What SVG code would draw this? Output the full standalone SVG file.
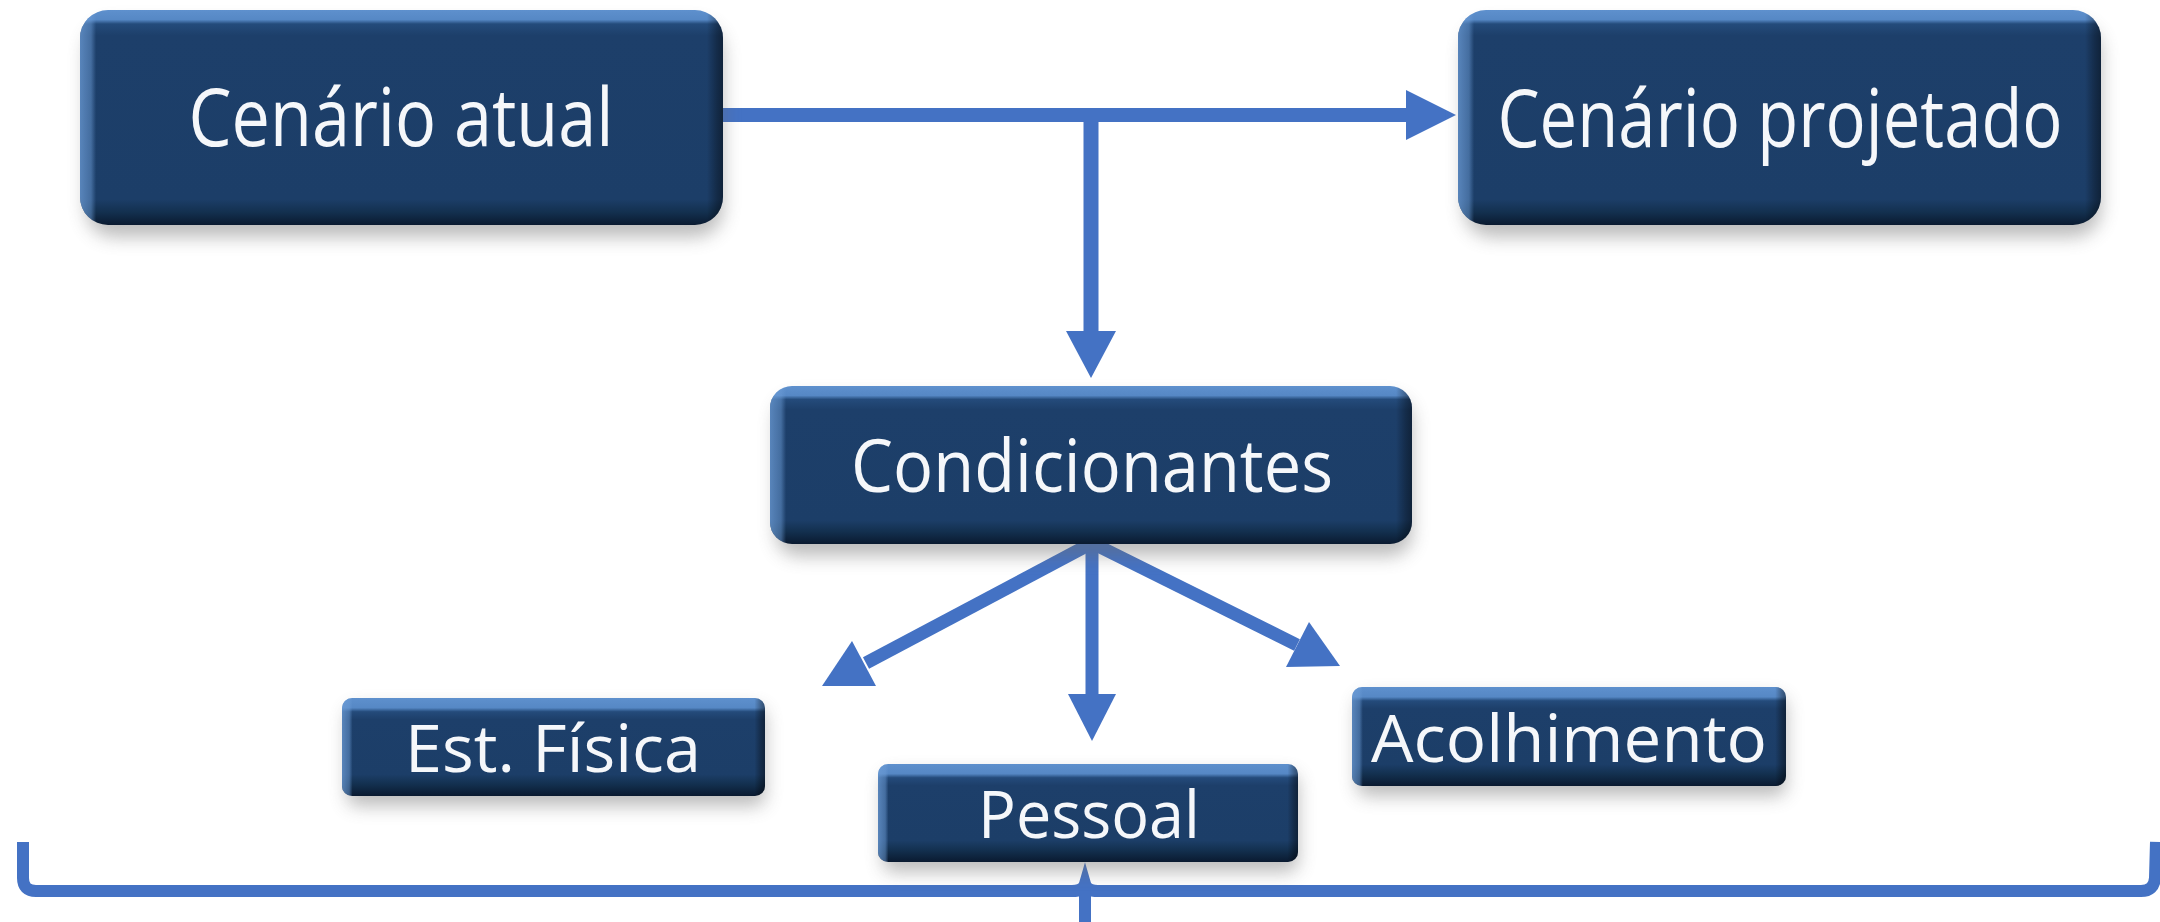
<svg xmlns="http://www.w3.org/2000/svg" width="2160" height="922" viewBox="0 0 2160 922">
<style>
.lbl{font-family:"Open Sans","Noto Sans","DejaVu Sans",sans-serif;fill:#f5f7fa;text-anchor:middle;}
.big{font-size:80px;}
.mid{font-size:73px;}
.sm{font-size:66px;}
.ln{stroke:#4472c4;fill:none;}
.hd{fill:#4472c4;}
.shd{fill:#6a6a6a;opacity:0.45;filter:url(#blur);}
</style>
<defs>
<filter id="blur" x="-10%" y="-30%" width="120%" height="160%"><feGaussianBlur stdDeviation="9"/></filter>
<linearGradient id="g1" x1="0" y1="0" x2="0" y2="1">
<stop offset="0" stop-color="#5e90cd"/><stop offset="0.045" stop-color="#5688c5"/><stop offset="0.065" stop-color="#244b7b"/><stop offset="0.12" stop-color="#1d3f6a"/><stop offset="0.88" stop-color="#1c3e68"/><stop offset="0.94" stop-color="#13304f"/><stop offset="1" stop-color="#0a1a30"/>
</linearGradient>
<linearGradient id="g2" x1="0" y1="0" x2="0" y2="1">
<stop offset="0" stop-color="#5e90cd"/><stop offset="0.06" stop-color="#5688c5"/><stop offset="0.085" stop-color="#244b7b"/><stop offset="0.15" stop-color="#1d3f6a"/><stop offset="0.85" stop-color="#1c3e68"/><stop offset="0.92" stop-color="#13304f"/><stop offset="1" stop-color="#0a1a30"/>
</linearGradient>
<linearGradient id="g3" x1="0" y1="0" x2="0" y2="1">
<stop offset="0" stop-color="#5e90cd"/><stop offset="0.1" stop-color="#5688c5"/><stop offset="0.14" stop-color="#244b7b"/><stop offset="0.22" stop-color="#1d3f6a"/><stop offset="0.78" stop-color="#1c3e68"/><stop offset="0.88" stop-color="#13304f"/><stop offset="1" stop-color="#0a1a30"/>
</linearGradient>
<linearGradient id="edge" x1="0" y1="0" x2="1" y2="0">
<stop offset="0" stop-color="#6c9cd6" stop-opacity="0.75"/><stop offset="0.017" stop-color="#6c9cd6" stop-opacity="0.5"/><stop offset="0.025" stop-color="#6c9cd6" stop-opacity="0"/><stop offset="0.975" stop-color="#000" stop-opacity="0"/><stop offset="0.99" stop-color="#000" stop-opacity="0.3"/><stop offset="1" stop-color="#000" stop-opacity="0.45"/>
</linearGradient>
</defs>
<rect width="2160" height="922" fill="#ffffff"/>

<g id="connectors">
<line class="ln" x1="723" y1="115" x2="1412" y2="115" stroke-width="14"/>
<polygon class="hd" points="1406,90 1456,115 1406,140"/>
<line class="ln" x1="1091" y1="115" x2="1091" y2="336" stroke-width="15"/>
<polygon class="hd" points="1066,331 1116,331 1091,378"/>
<line class="ln" x1="1092" y1="543" x2="866" y2="663" stroke-width="13"/>
<polygon class="hd" points="822,686 852,641 876,686"/>
<line class="ln" x1="1092" y1="543" x2="1092" y2="700" stroke-width="13"/>
<polygon class="hd" points="1068,694 1116,694 1092,741"/>
<line class="ln" x1="1092" y1="543" x2="1297" y2="645" stroke-width="13"/>
<polygon class="hd" points="1340,666 1309,622 1286,667"/>
<path class="ln" stroke-width="12" d="M23 842 L23 878 Q23 891 36 891 L1072 891 Q1083 891 1085 884 Q1087 891 1098 891 L2141 891 Q2154 891 2155 878 L2156 842"/>
<path class="hd" d="M1079 890 L1085 884 L1091 890 L1091 922 L1079 922 Z"/>
</g>

<g id="node-cenario-atual">
<rect class="shd" x="86" y="24" width="637" height="213" rx="28"/>
<rect x="80" y="10" width="643" height="215" rx="28" fill="url(#g1)"/>
<rect x="80" y="10" width="643" height="215" rx="28" fill="url(#edge)"/>
<text class="lbl big" transform="translate(401,146) scale(0.85,1)" x="0" y="0" textLength="500" lengthAdjust="spacingAndGlyphs">Cenário atual</text>
</g>

<g id="node-cenario-projetado">
<rect class="shd" x="1464" y="24" width="637" height="213" rx="28"/>
<rect x="1458" y="10" width="643" height="215" rx="28" fill="url(#g1)"/>
<rect x="1458" y="10" width="643" height="215" rx="28" fill="url(#edge)"/>
<text class="lbl big" transform="translate(1780,147) scale(0.85,1)" x="0" y="0" textLength="665" lengthAdjust="spacingAndGlyphs">Cenário projetado</text>
</g>

<g id="node-condicionantes">
<rect class="shd" x="776" y="398" width="636" height="158" rx="22"/>
<rect x="770" y="386" width="642" height="158" rx="22" fill="url(#g2)"/>
<rect x="770" y="386" width="642" height="158" rx="22" fill="url(#edge)"/>
<text class="lbl mid" transform="translate(1092,492) scale(0.85,1)" x="0" y="0" textLength="567" lengthAdjust="spacingAndGlyphs">Condicionantes</text>
</g>

<g id="node-est-fisica">
<rect class="shd" x="347" y="708" width="418" height="98" rx="10"/>
<rect x="342" y="698" width="423" height="98" rx="10" fill="url(#g3)"/>
<rect x="342" y="698" width="423" height="98" rx="10" fill="url(#edge)"/>
<text class="lbl sm" transform="translate(553,772) scale(0.85,1)" x="0" y="0" textLength="348" lengthAdjust="spacingAndGlyphs">Est. Física</text>
</g>

<g id="node-pessoal">
<rect class="shd" x="883" y="774" width="415" height="98" rx="10"/>
<rect x="878" y="764" width="420" height="98" rx="10" fill="url(#g3)"/>
<rect x="878" y="764" width="420" height="98" rx="10" fill="url(#edge)"/>
<text class="lbl sm" transform="translate(1089,838) scale(0.85,1)" x="0" y="0" textLength="261" lengthAdjust="spacingAndGlyphs">Pessoal</text>
</g>

<g id="node-acolhimento">
<rect class="shd" x="1357" y="697" width="429" height="99" rx="10"/>
<rect x="1352" y="687" width="434" height="99" rx="10" fill="url(#g3)"/>
<rect x="1352" y="687" width="434" height="99" rx="10" fill="url(#edge)"/>
<text class="lbl sm" transform="translate(1569,762) scale(0.85,1)" x="0" y="0" textLength="466" lengthAdjust="spacingAndGlyphs">Acolhimento</text>
</g>
</svg>
